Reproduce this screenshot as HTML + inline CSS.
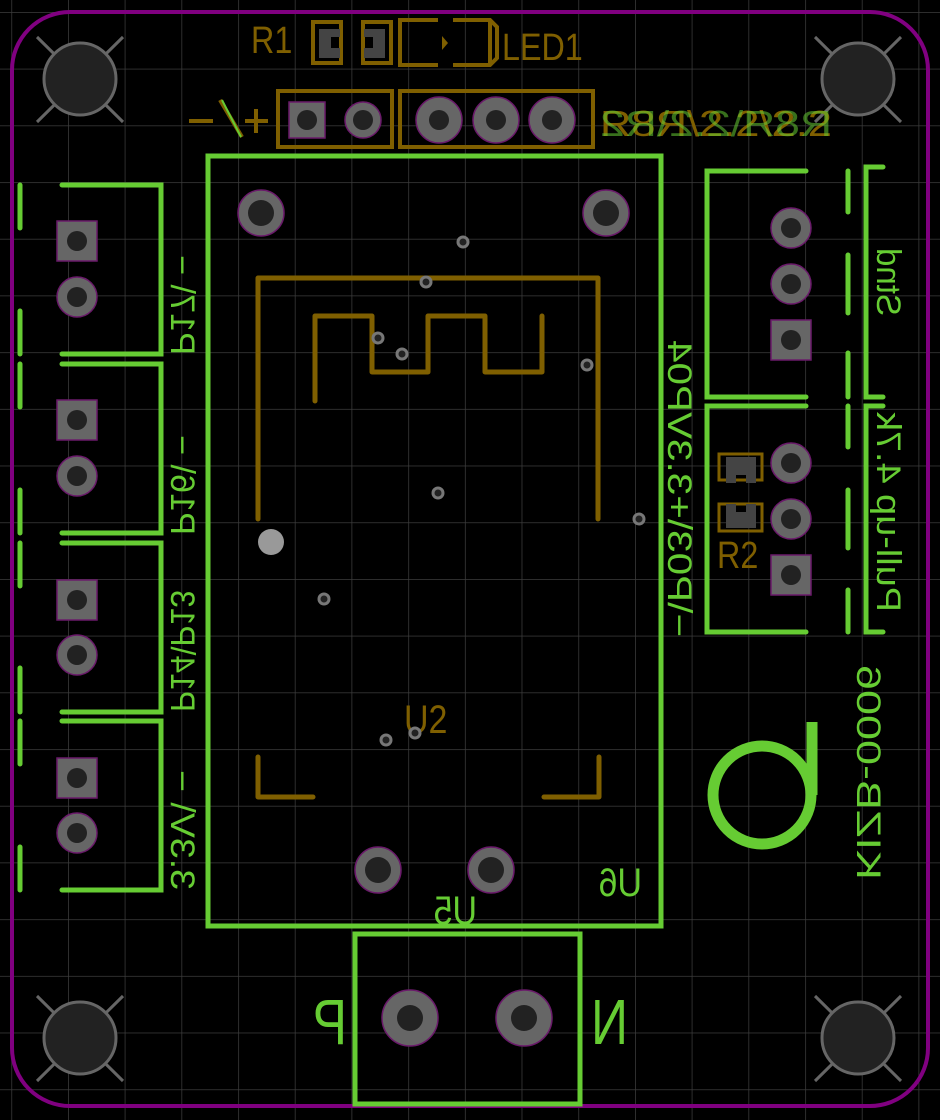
<!DOCTYPE html>
<html><head><meta charset="utf-8"><style>
html,body{margin:0;padding:0;background:#000;}
svg{display:block}
text{font-family:"Liberation Sans",sans-serif;}
</style></head><body>
<svg width="940" height="1120" viewBox="0 0 940 1120" xmlns="http://www.w3.org/2000/svg">
<defs>
<pattern id="g" x="11.3" y="12" width="56.7" height="56.7" patternUnits="userSpaceOnUse">
<path d="M0 0H56.7M0 0V56.7" stroke="#3c3c3c" stroke-width="1.5" fill="none"/>
</pattern>
</defs>
<rect width="940" height="1120" fill="#000"/>
<rect width="940" height="1120" fill="url(#g)"/>
<rect x="12" y="12" width="916" height="1094" rx="58" fill="none" stroke="#800080" stroke-width="4"/>
<g stroke="#666" stroke-width="3" fill="#222">
<g id="mh"><path d="M37 37L123 122M123 37L37 122"/><circle cx="80" cy="79" r="36"/></g>
<use href="#mh" x="778" y="0"/><use href="#mh" x="0" y="959"/><use href="#mh" x="778" y="959"/>
</g>

<g fill="none" stroke="#7f5f00" stroke-width="4">
<rect x="313" y="22" width="28" height="41"/>
<rect x="363" y="22" width="28" height="41"/>
<path d="M438 20H400V65H438M453 20H490L497 27V58L490 65H453M490 20V65"/>
<rect x="278" y="91" width="114" height="56"/>
<rect x="400" y="91" width="193" height="56"/>
</g>
<g fill="#444"><path d="M319 29H340V37H331V48H340V58H319Z"/><path d="M385 29H364V37H373V48H364V58H385Z"/></g>
<path d="M442 36L448 43L442 50Z" fill="#7f5f00"/>
<text transform="translate(251,53) scale(0.85,1)" font-size="38" fill="#7f5f00">R1</text>
<text transform="translate(502,60) scale(0.85,1)" font-size="38" fill="#7f5f00">LED1</text>
<path d="M189 121H213M245 121H268M256 109V133" stroke="#7f5f00" stroke-width="4"/>
<path d="M220 100L242 137" stroke="#7f5f00" stroke-width="4"/>
<path d="M222 100L241 137" stroke="#66cc33" stroke-width="2"/>
<text x="600" y="136" font-size="36" fill="#7f5f00" textLength="232" lengthAdjust="spacingAndGlyphs">R8Я\2.2\2.2</text>
<text transform="translate(832,0) scale(-1,1)" x="0" y="136" font-size="36" fill="#66cc33" fill-opacity="0.55" textLength="232" lengthAdjust="spacingAndGlyphs">R8Я\2.2\R2</text>

<g stroke="#6a1a6a" stroke-width="1.5" fill="#666">
<rect x="289" y="102" width="36" height="36"/>
<ellipse cx="363" cy="120" rx="18" ry="18"/>
<ellipse cx="439" cy="120" rx="23" ry="23"/>
<ellipse cx="496" cy="120" rx="23" ry="23"/>
<ellipse cx="552" cy="120" rx="23" ry="23"/>
<circle cx="261" cy="213" r="23"/><circle cx="606" cy="213" r="23"/>
<circle cx="378" cy="870" r="23"/><circle cx="491" cy="870" r="23"/>
<circle cx="410" cy="1018" r="28"/><circle cx="524" cy="1018" r="28"/>
<rect x="57" y="221" width="40" height="40"/><circle cx="77" cy="297" r="20"/>
<rect x="57" y="400" width="40" height="40"/><circle cx="77" cy="476" r="20"/>
<rect x="57" y="580" width="40" height="40"/><circle cx="77" cy="655" r="20"/>
<rect x="57" y="758" width="40" height="40"/><circle cx="77" cy="833" r="20"/>
<circle cx="791" cy="228" r="20"/><circle cx="791" cy="284" r="20"/><rect x="771" y="320" width="40" height="40"/>
<circle cx="791" cy="463" r="20"/><circle cx="791" cy="519" r="20"/><rect x="771" y="555" width="40" height="40"/>
</g>
<g fill="#222">
<circle cx="307" cy="120" r="10"/><circle cx="363" cy="120" r="10"/>
<circle cx="439" cy="120" r="10"/><circle cx="496" cy="120" r="10"/><circle cx="552" cy="120" r="10"/>
<circle cx="261" cy="213" r="13"/><circle cx="606" cy="213" r="13"/>
<circle cx="378" cy="870" r="13"/><circle cx="491" cy="870" r="13"/>
<circle cx="410" cy="1018" r="13"/><circle cx="524" cy="1018" r="13"/>
<circle cx="77" cy="241" r="10"/><circle cx="77" cy="297" r="10"/>
<circle cx="77" cy="420" r="10"/><circle cx="77" cy="476" r="10"/>
<circle cx="77" cy="600" r="10"/><circle cx="77" cy="655" r="10"/>
<circle cx="77" cy="778" r="10"/><circle cx="77" cy="833" r="10"/>
<circle cx="791" cy="228" r="10"/><circle cx="791" cy="284" r="10"/><circle cx="791" cy="340" r="10"/>
<circle cx="791" cy="463" r="10"/><circle cx="791" cy="519" r="10"/><circle cx="791" cy="575" r="10"/>
</g>

<g fill="none" stroke="#7f5f00" stroke-width="5" stroke-linecap="round" stroke-linejoin="round">
<path d="M258 519V278H598V519"/>
<path d="M315 401V316H372V372H428V316H485V372H542V316"/>
<path d="M258 757V797H313M599 757V797H544"/>
</g>
<text transform="translate(404,733) scale(0.85,1)" font-size="40" fill="#7f5f00">U2</text>
<g fill="#222" stroke="#777" stroke-width="3">
<circle cx="463" cy="242" r="5"/><circle cx="426" cy="282" r="5"/><circle cx="378" cy="338" r="5"/>
<circle cx="402" cy="354" r="5"/><circle cx="587" cy="365" r="5"/><circle cx="438" cy="493" r="5"/>
<circle cx="639" cy="519" r="5"/><circle cx="324" cy="599" r="5"/><circle cx="386" cy="740" r="5"/>
<circle cx="415" cy="733" r="5"/>
</g>
<circle cx="271" cy="542" r="13" fill="#999"/>

<g fill="none" stroke="#66cc33" stroke-width="5" stroke-linecap="round">
<rect x="208" y="156" width="453" height="770"/>
<rect x="355" y="934" width="225" height="170"/>
<path d="M62 185H161V354H62M62 364H161V533H62M62 543H161V712H62M62 721H161V890H62"/>
<path d="M20 185V228M20 311V354M20 364V407M20 490V533M20 543V586M20 668V712M20 721V764M20 847V890"/>
<path d="M806 171H707V397H806M806 406H707V632H806"/>
<path d="M848 171V212M848 255V313M848 353V397M848 406V447M848 490V548M848 590V632"/>
<path d="M883 167H866V397H883M883 406H866V632H883"/>
<circle cx="762" cy="795" r="49" stroke-width="11"/>
<path d="M812 722V795" stroke-width="11" stroke-linecap="butt"/>
</g>
<g fill="#66cc33">
<text transform="translate(642,896) scale(-0.85,1)" font-size="40">U6</text>
<text transform="translate(477,924) scale(-0.85,1)" font-size="40">U5</text>
<text transform="translate(347,1044) scale(-0.8,1)" font-size="64">P</text>
<text transform="translate(628,1044) scale(-0.8,1)" font-size="64">N</text>
<text transform="translate(857,880) rotate(-90) scale(1,-1)" font-size="34" textLength="215" lengthAdjust="spacingAndGlyphs">KIZB-0006</text>
<text transform="translate(668,637) rotate(-90) scale(1,-1)" font-size="34" textLength="297" lengthAdjust="spacingAndGlyphs">−\P03\+3.3VP04</text>
<text transform="translate(171,355) rotate(-90) scale(1,-1)" font-size="34" textLength="100" lengthAdjust="spacingAndGlyphs">P17\ −</text>
<text transform="translate(171,535) rotate(-90) scale(1,-1)" font-size="34" textLength="100" lengthAdjust="spacingAndGlyphs">P16\ −</text>
<text transform="translate(171,712) rotate(-90) scale(1,-1)" font-size="34" textLength="122" lengthAdjust="spacingAndGlyphs">P14\P13</text>
<text transform="translate(171,890) rotate(-90) scale(1,-1)" font-size="34" textLength="120" lengthAdjust="spacingAndGlyphs">3.3V\ −</text>
<text transform="translate(877,316) rotate(-90) scale(1,-1)" font-size="34" textLength="68" lengthAdjust="spacingAndGlyphs">Stnd</text>
<text transform="translate(877,612) rotate(-90) scale(1,-1)" font-size="34" textLength="200" lengthAdjust="spacingAndGlyphs">Pull-up 4.7k</text>
</g>

<g fill="none" stroke="#7f5f00" stroke-width="3">
<rect x="719" y="454" width="43" height="26"/>
<rect x="719" y="504" width="43" height="27"/>
</g>
<g fill="#444"><path d="M726 457H756V483H746V475H736V483H726Z"/><path d="M726 528H756V504H746V512H736V504H726Z"/></g>
<text transform="translate(717,568) scale(0.85,1)" font-size="38" fill="#7f5f00">R2</text>
</svg>
</body></html>
